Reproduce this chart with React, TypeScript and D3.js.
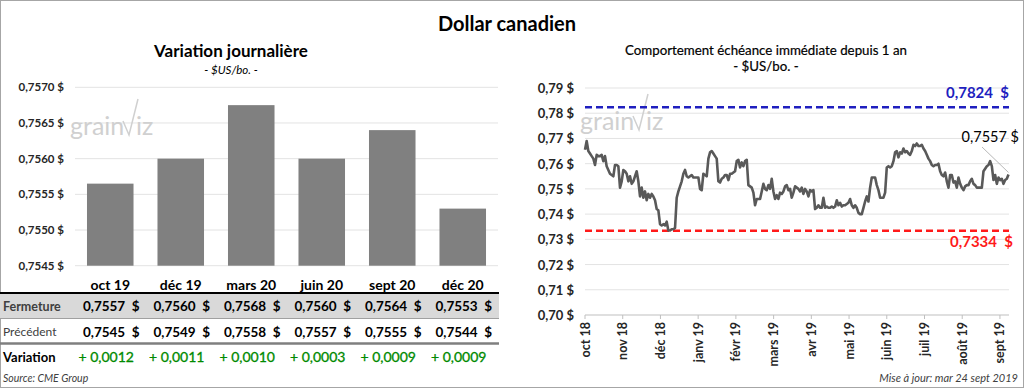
import React from "react";
import * as d3 from "d3";

// ---- Left chart data ----
const contracts = ["oct 19", "déc 19", "mars 20", "juin 20", "sept 20", "déc 20"];
const barValues = [0.75565, 0.756, 0.75675, 0.756, 0.7564, 0.7553];
const closeValues = [0.7557, 0.756, 0.7568, 0.756, 0.7564, 0.7553];
const prevValues = [0.7545, 0.7549, 0.7558, 0.7557, 0.7555, 0.7544];
const variationValues = [0.0012, 0.0011, 0.001, 0.0003, 0.0009, 0.0009];
const leftTicks = [0.7545, 0.755, 0.7555, 0.756, 0.7565, 0.757];

// ---- Right chart data ----
const monthLabels = ["oct 18", "nov 18", "déc 18", "janv 19", "févr 19", "mars 19", "avr 19", "mai 19", "juin 19", "juil 19", "août 19", "sept 19"];
const rightTicks = [0.7, 0.71, 0.72, 0.73, 0.74, 0.75, 0.76, 0.77, 0.78, 0.79];
const highValue = 0.7824;
const lowValue = 0.7334;
const lastValue = 0.7557;
const dailyValues = [
  0.7655, 0.769, 0.765, 0.764, 0.763, 0.762, 0.7595, 0.7635, 0.763, 0.763, 0.7635, 0.761, 0.763, 0.759, 0.7575, 0.756,
  0.7555, 0.755, 0.7595, 0.7595, 0.759, 0.7505, 0.753, 0.7575, 0.757, 0.756, 0.753, 0.755, 0.752, 0.753, 0.755, 0.757,
  0.753, 0.747, 0.7505, 0.7465, 0.749, 0.7455, 0.748, 0.7465, 0.748, 0.747, 0.7455, 0.742, 0.7415, 0.736, 0.7355, 0.736,
  0.7355, 0.737, 0.7335, 0.7335, 0.734, 0.734, 0.7345, 0.7465, 0.749, 0.751, 0.753, 0.756, 0.7575, 0.755, 0.7545, 0.755,
  0.7555, 0.7545, 0.7545, 0.7545, 0.7545, 0.75, 0.7495, 0.756, 0.7555, 0.755, 0.762, 0.7645, 0.765, 0.764, 0.763, 0.762,
  0.753, 0.7525, 0.754, 0.7545, 0.7555, 0.7555,
  0.7535, 0.756, 0.756, 0.7565, 0.757, 0.761, 0.7615, 0.7585, 0.7605, 0.759, 0.761, 0.7615, 0.7515, 0.751, 0.7505, 0.7485,
  0.7435, 0.746, 0.746, 0.746, 0.749, 0.752, 0.75, 0.7495, 0.7515, 0.75, 0.754, 0.749, 0.746, 0.7475, 0.746, 0.7485,
  0.748, 0.749, 0.751, 0.7515, 0.7495, 0.75, 0.7465, 0.7485, 0.751, 0.7505, 0.75, 0.749, 0.7505, 0.748, 0.75, 0.749,
  0.747, 0.7495, 0.749, 0.7495, 0.742, 0.7425, 0.7435, 0.7425, 0.7425, 0.7465, 0.7425, 0.743, 0.7425, 0.7425, 0.743, 0.7425,
  0.743, 0.7455, 0.7435, 0.7445, 0.743, 0.7435, 0.7435, 0.744, 0.7445, 0.746, 0.7435, 0.7425, 0.7435, 0.7425, 0.7405, 0.74,
  0.74,
  0.7425, 0.745, 0.747, 0.745, 0.7505, 0.7545, 0.7545, 0.7545, 0.7515, 0.7495, 0.7465, 0.7465, 0.7465, 0.7485, 0.7585, 0.759,
  0.7585, 0.759, 0.761, 0.7645, 0.765, 0.7625, 0.7645, 0.764, 0.766, 0.7645, 0.765, 0.764, 0.7635, 0.765, 0.7675, 0.767,
  0.768, 0.767, 0.767, 0.7675, 0.766, 0.765, 0.7635, 0.762, 0.761, 0.7595, 0.759, 0.7595, 0.7595, 0.76, 0.757, 0.7555,
  0.755, 0.7565, 0.753, 0.7505, 0.7555, 0.7555, 0.7525, 0.753, 0.7505, 0.7545, 0.752, 0.7505, 0.7495, 0.751, 0.7515, 0.7515,
  0.753, 0.754, 0.752, 0.7515, 0.7505, 0.7505, 0.7505, 0.7505, 0.757, 0.758, 0.759, 0.7595, 0.761, 0.759, 0.7535, 0.7555,
  0.752, 0.7545, 0.7535, 0.754, 0.752, 0.7535, 0.754, 0.7557,
];

const FONT = "Lato, 'Open Sans', sans-serif";
const fmt4 = (v: number) => d3.format(".4f")(v).replace(".", ",");
const fmt2 = (v: number) => d3.format(".2f")(v).replace(".", ",");

function Watermark({ x, y }: { x: number; y: number }) {
  return (
    <g fontFamily={FONT}>
      <text x={x} y={y} fontSize={25} fill="#d0d0d0">grain</text>
      <path d={`M${x + 53},${y - 14} L${x + 59},${y} L${x + 68},${y - 36}`} fill="none" stroke="#d0d0d0" strokeWidth={1.5} />
      <text x={x + 66} y={y} fontSize={25} fill="#d0d0d0">iz</text>
    </g>
  );
}

export default function App() {
  // Left chart
  const xL = d3.scaleBand<string>().domain(contracts).range([75, 498]).paddingInner(0.34).paddingOuter(0.17);
  const yL = d3.scaleLinear().domain([0.7545, 0.757]).range([265.7, 87.3]);
  const colX = d3.scaleBand<string>().domain(contracts).range([75, 498]);

  // Right chart
  const xR = d3.scaleLinear().domain([0, dailyValues.length - 1]).range([585, 1008.5]);
  const xM = d3.scaleLinear().domain([0, 11.24]).range([585, 1009]);
  const yR = d3.scaleLinear().domain([0.7, 0.79]).range([315, 88]);
  const line = d3.line<number>().x((_, i) => xR(i)).y((d) => yR(d));
  const lastX = xR(dailyValues.length - 1);

  return (
    <svg width={1024} height={388} style={{ position: "absolute", left: 0, top: 0, background: "#fff" }} fontFamily={FONT}>
      <rect x={0.5} y={0.5} width={1023} height={387} fill="#fff" stroke="#a6a6a6" />
      <text x={507} y={31} textAnchor="middle" fontSize={20} fontWeight="bold" fill="#000">Dollar canadien</text>

      {/* ---------- Left chart ---------- */}
      <text x={231} y={57} textAnchor="middle" fontSize={17} fontWeight="bold" fill="#000">Variation journalière</text>
      <text x={231} y={74} textAnchor="middle" fontSize={11.5} fontStyle="italic" fill="#000">- $US/bo. -</text>
      {leftTicks.map((t) => (
        <g key={t}>
          <line x1={75} x2={498} y1={yL(t)} y2={yL(t)} stroke="#e3e3e3" strokeWidth={1} />
          <text x={64} y={yL(t) + 4} textAnchor="end" fontSize={11.5} fontWeight="bold" fill="#262626">{fmt4(t)} $</text>
        </g>
      ))}
      <Watermark x={70} y={135} />
      {contracts.map((c, i) => (
        <rect key={c} x={xL(c)} y={yL(barValues[i])} width={xL.bandwidth()} height={yL(0.7545) - yL(barValues[i])} fill="#808080" />
      ))}
      {contracts.map((c) => (
        <text key={c} x={(colX(c) as number) + colX.bandwidth() / 2} y={290} textAnchor="middle" fontSize={14} fontWeight="bold" fill="#000">{c}</text>
      ))}
      {/* table */}
      <rect x={0} y={293} width={499} height={25} fill="#d9d9d9" />
      <line x1={0} x2={499} y1={293} y2={293} stroke="#000" strokeWidth={2} />
      <line x1={0} x2={499} y1={318.5} y2={318.5} stroke="#a0a0a0" strokeWidth={1} />
      <line x1={0} x2={499} y1={343.5} y2={343.5} stroke="#7f7f7f" strokeWidth={2.5} />
      <text x={3} y={311} fontSize={12.5} fontWeight="bold" fill="#404040">Fermeture</text>
      <text x={3} y={336} fontSize={12} fill="#404040">Précédent</text>
      <text x={3} y={362} fontSize={13} fontWeight="bold" fill="#000">Variation</text>
      {contracts.map((c, i) => {
        const cx = (colX(c) as number) + colX.bandwidth() / 2;
        return (
          <g key={c}>
            <text x={cx + 1} y={311} textAnchor="middle" fontSize={13.5} fontWeight="bold" fill="#000" style={{ whiteSpace: "pre" }}>{fmt4(closeValues[i]) + "  $"}</text>
            <text x={cx + 1} y={337} textAnchor="middle" fontSize={13.5} fontWeight="bold" fill="#000" style={{ whiteSpace: "pre" }}>{fmt4(prevValues[i]) + "  $"}</text>
            <text x={cx - 4} y={362} textAnchor="middle" fontSize={14} fill="#008a00" stroke="#008a00" strokeWidth={0.3}>{"+ " + fmt4(variationValues[i])}</text>
          </g>
        );
      })}
      <text x={3} y={382} fontSize={10.5} fontStyle="italic" fill="#404040">Source: CME Group</text>

      {/* ---------- Right chart ---------- */}
      <text x={766} y={55} textAnchor="middle" fontSize={13.3} fill="#000" stroke="#000" strokeWidth={0.2}>Comportement échéance immédiate depuis 1 an</text>
      <text x={766} y={71} textAnchor="middle" fontSize={13.3} fill="#000" stroke="#000" strokeWidth={0.2}>- $US/bo. -</text>
      {rightTicks.map((t) => (
        <g key={t}>
          <line x1={585} x2={1009} y1={yR(t)} y2={yR(t)} stroke={t === 0.7 ? "#bfbfbf" : "#e3e3e3"} strokeWidth={1} />
          <text x={574} y={yR(t) + 5} textAnchor="end" fontSize={13} fontWeight="bold" fill="#262626">{fmt2(t)} $</text>
        </g>
      ))}
      {monthLabels.map((m, i) => (
        <g key={m}>
          <line x1={xM(i)} x2={xM(i)} y1={315} y2={319} stroke="#bfbfbf" />
          <text transform={`translate(${xM(i) + 4.5},${322}) rotate(-90)`} textAnchor="end" fontSize={12.5} fontWeight="bold" fill="#262626">{m}</text>
        </g>
      ))}
      <Watermark x={580} y={130} />
      <line x1={585} x2={1009} y1={yR(highValue)} y2={yR(highValue)} stroke="#1f1fbf" strokeWidth={2.5} strokeDasharray="7,4" />
      <line x1={585} x2={1009} y1={yR(lowValue)} y2={yR(lowValue)} stroke="#ff1a1a" strokeWidth={2.5} strokeDasharray="7,4" />
      <path d={line(dailyValues) || ""} fill="none" stroke="#595959" strokeWidth={2.6} strokeLinejoin="round" />
      <text x={1009} y={98} textAnchor="end" fontSize={15} fontWeight="bold" fill="#1f1fbf" style={{ whiteSpace: "pre" }}>{fmt4(highValue) + "  $"}</text>
      <text x={1013} y={247} textAnchor="end" fontSize={15} fontWeight="bold" fill="#ff1a1a" style={{ whiteSpace: "pre" }}>{fmt4(lowValue) + "  $"}</text>
      <line x1={982} y1={147} x2={lastX} y2={yR(lastValue) - 2} stroke="#a6a6a6" strokeWidth={0.8} />
      <text x={1019} y={142} textAnchor="end" fontSize={14.5} fill="#000">{fmt4(lastValue) + " $"}</text>
      <text x={1018} y={382} textAnchor="end" fontSize={11} fontStyle="italic" fill="#404040">Mise à jour: mar 24 sept 2019</text>
    </svg>
  );
}
